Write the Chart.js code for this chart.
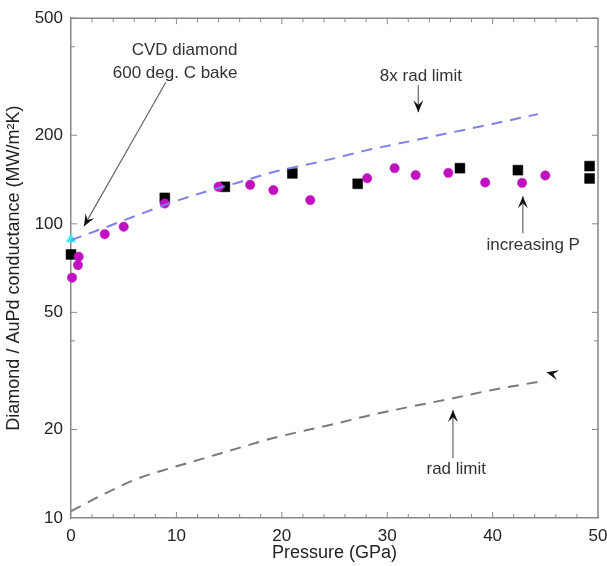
<!DOCTYPE html>
<html>
<head>
<meta charset="utf-8">
<script src="https://cdn.jsdelivr.net/npm/chart.js@4.4.0/dist/chart.umd.min.js"></script>
<style>
  html, body { margin: 0; padding: 0; background: #fff; }
  #wrap { width: 607px; height: 566px; }
</style>
</head>
<body>
<div id="wrap"><canvas id="chart" width="607" height="566"></canvas></div>
<script>
// Measured conductance, increasing pressure (magenta circles)
const circleP = [0.1, 0.66, 0.73, 3.2, 5.0, 8.9, 14.0, 17.0, 19.2, 22.7, 28.1, 30.7, 32.7, 35.8, 39.3, 42.8, 45.0];
const circleG = [65.6, 72.4, 77.3, 92.2, 97.7, 117.2, 133.6, 135.7, 130.2, 120.4, 142.9, 154.6, 146.4, 149.0, 138.2, 137.8, 146.0];

// Second run (black squares)
const squareP = [0, 8.9, 14.6, 21.0, 27.2, 36.9, 42.4, 49.2, 49.2];
const squareG = [78.7, 122.5, 133.6, 148.4, 136.8, 154.6, 152.2, 157.1, 142.6];

// CVD diamond after 600 C bake (cyan triangle)
const cvdP = [0];
const cvdG = [88.7];

// Radiation limit curves
const limitP = [0, 3.2, 6.3, 9.5, 12.6, 15.8, 19.2, 22.4, 25.3, 27.8, 32.2, 35.7, 40.1, 44.3];
const radLimit = [10.55, 12.1, 13.6, 14.8, 15.95, 17.25, 18.7, 19.9, 21.0, 22.1, 23.9, 25.3, 27.3, 29.0];
const rad8Limit = [88, 97, 107, 118, 128, 138, 150, 159, 168, 177, 191, 203, 219, 236];

// Axis ticks
const xLabels = [0, 10, 20, 30, 40, 50];
const yLabels = [10, 20, 50, 100, 200, 500];
const yTickMarks = [20, 40, 50, 100, 200, 400, 500];

const FONT = "'Liberation Sans', Arial, Helvetica, sans-serif";

function pts(xs, ys) {
  return xs.map((x, i) => ({ x: x, y: ys[i] }));
}

// Annotation texts and arrows, in data coordinates
const notes = [
  { text: "CVD diamond", x: 15.8, y: 389, align: "right" },
  { text: "600 deg. C bake", x: 15.8, y: 325, align: "right" },
  { text: "8x rad limit", x: 33.2, y: 318, align: "center" },
  { text: "increasing P", x: 43.85, y: 84.6, align: "center" },
  { text: "rad limit", x: 36.55, y: 14.67, align: "center" },
];
const arrows = [
  { x1: 9.0, y1: 303, x2: 1.23, y2: 98.2 },
  { x1: 32.95, y1: 296, x2: 32.95, y2: 239.6 },
  { x1: 42.87, y1: 92.9, x2: 42.87, y2: 124.2 },
  { x1: 36.24, y1: 16.0, x2: 36.24, y2: 23.3 },
];

function drawHead(ctx, x1, y1, x2, y2) {
  const ang = Math.atan2(y2 - y1, x2 - x1);
  const len = 12, wid = 5;
  ctx.save();
  ctx.translate(x2, y2);
  ctx.rotate(ang);
  ctx.fillStyle = "#111";
  ctx.beginPath();
  ctx.moveTo(0, 0);
  ctx.lineTo(-len, -wid);
  ctx.lineTo(-len * 0.6, 0);
  ctx.lineTo(-len, wid);
  ctx.closePath();
  ctx.fill();
  ctx.restore();
}

const framePlugin = {
  id: "frame",
  afterDraw(chart) {
    const ctx = chart.ctx;
    const a = chart.chartArea;
    const xs = chart.scales.x, ys = chart.scales.y;
    ctx.save();
    ctx.strokeStyle = "#888";
    ctx.lineWidth = 1.5;
    ctx.beginPath();
    ctx.moveTo(a.left, a.top);
    ctx.lineTo(a.right, a.top);
    ctx.lineTo(a.right, a.bottom);
    ctx.stroke();

    // inward tick marks
    ctx.lineWidth = 1;
    ctx.beginPath();
    for (let v = 2; v < 50; v += 2) {
      const px = xs.getPixelForValue(v);
      const len = v % 10 === 0 ? 6 : 4;
      ctx.moveTo(px, a.bottom); ctx.lineTo(px, a.bottom - len);
      ctx.moveTo(px, a.top); ctx.lineTo(px, a.top + len);
    }
    yTickMarks.forEach(v => {
      const py = ys.getPixelForValue(v);
      const len = yLabels.includes(v) ? 6 : 4;
      ctx.moveTo(a.left, py); ctx.lineTo(a.left + len, py);
      ctx.moveTo(a.right, py); ctx.lineTo(a.right - len, py);
    });
    ctx.stroke();

    // annotations
    ctx.strokeStyle = "#666";
    ctx.lineWidth = 1.2;
    arrows.forEach(ar => {
      const x1 = xs.getPixelForValue(ar.x1), y1 = ys.getPixelForValue(ar.y1);
      const x2 = xs.getPixelForValue(ar.x2), y2 = ys.getPixelForValue(ar.y2);
      ctx.beginPath();
      ctx.moveTo(x1, y1);
      ctx.lineTo(x2, y2);
      ctx.stroke();
      drawHead(ctx, x1, y1, x2, y2);
    });
    // lone arrow head next to the end of the rad limit curve
    drawHead(ctx, xs.getPixelForValue(46.4), ys.getPixelForValue(30.5),
      xs.getPixelForValue(45.1), ys.getPixelForValue(31.3));

    ctx.fillStyle = "#333";
    ctx.font = "17px " + FONT;
    ctx.textBaseline = "middle";
    notes.forEach(n => {
      ctx.textAlign = n.align;
      ctx.fillText(n.text, xs.getPixelForValue(n.x), ys.getPixelForValue(n.y));
    });
    ctx.restore();
  }
};

new Chart(document.getElementById("chart"), {
  type: "scatter",
  data: {
    datasets: [
      {
        label: "rad limit",
        data: pts(limitP, radLimit),
        showLine: true,
        borderColor: "#7a7a7a",
        borderWidth: 2,
        borderDash: [11, 8],
        pointRadius: 0,
        cubicInterpolationMode: "monotone",
        clip: false,
      },
      {
        label: "8x rad limit",
        data: pts(limitP, rad8Limit),
        showLine: true,
        borderColor: "#7f7fea",
        borderWidth: 2,
        borderDash: [11, 8],
        pointRadius: 0,
        cubicInterpolationMode: "monotone",
        clip: false,
      },
      {
        label: "increasing P",
        data: pts(circleP, circleG),
        pointStyle: "circle",
        pointRadius: 4.7,
        backgroundColor: "#c010c0",
        borderColor: "#c010c0",
        borderWidth: 0.5,
        clip: false,
      },
      {
        label: "run 2",
        data: pts(squareP, squareG),
        pointStyle: "rect",
        pointRadius: 7,
        backgroundColor: "#000",
        borderColor: "#000",
        borderWidth: 0.5,
        clip: false,
      },
      {
        label: "CVD diamond",
        data: pts(cvdP, cvdG),
        pointStyle: "triangle",
        pointRadius: 5.5,
        backgroundColor: "#3ee8f2",
        borderColor: "#3ee8f2",
        borderWidth: 0.5,
        clip: false,
      },
    ]
  },
  options: {
    responsive: false,
    animation: false,
    events: [],
    layout: { padding: { top: 17, right: 9, left: 0, bottom: 0 } },
    plugins: {
      legend: { display: false },
      tooltip: { enabled: false },
    },
    scales: {
      x: {
        type: "linear",
        min: 0,
        max: 50,
        afterFit(scale) {
          scale.height = 48;
          scale.paddingLeft = 0;
          scale.paddingRight = 0;
        },
        afterBuildTicks(scale) { scale.ticks = xLabels.map(v => ({ value: v })); },
        grid: { display: false, drawTicks: false },
        border: { display: true, color: "#888", width: 1.5 },
        ticks: { color: "#222", font: { family: FONT, size: 17 }, padding: 8 },
        title: {
          display: true,
          text: "Pressure (GPa)",
          color: "#222",
          font: { family: FONT, size: 18 },
          padding: { top: 0, bottom: 2 },
        },
      },
      y: {
        type: "logarithmic",
        min: 10,
        max: 500,
        afterFit(scale) { scale.width = 71; },
        afterBuildTicks(scale) { scale.ticks = yLabels.map(v => ({ value: v })); },
        grid: { display: false, drawTicks: false },
        border: { display: true, color: "#888", width: 1.5 },
        ticks: {
          color: "#222",
          font: { family: FONT, size: 17 },
          padding: 8,
          callback: v => String(v),
        },
        title: {
          display: true,
          text: "Diamond / AuPd conductance (MW/m²K)",
          color: "#222",
          font: { family: FONT, size: 18 },
          padding: { top: 3, bottom: 0 },
        },
      },
    },
  },
  plugins: [framePlugin],
});
</script>
</body>
</html>
